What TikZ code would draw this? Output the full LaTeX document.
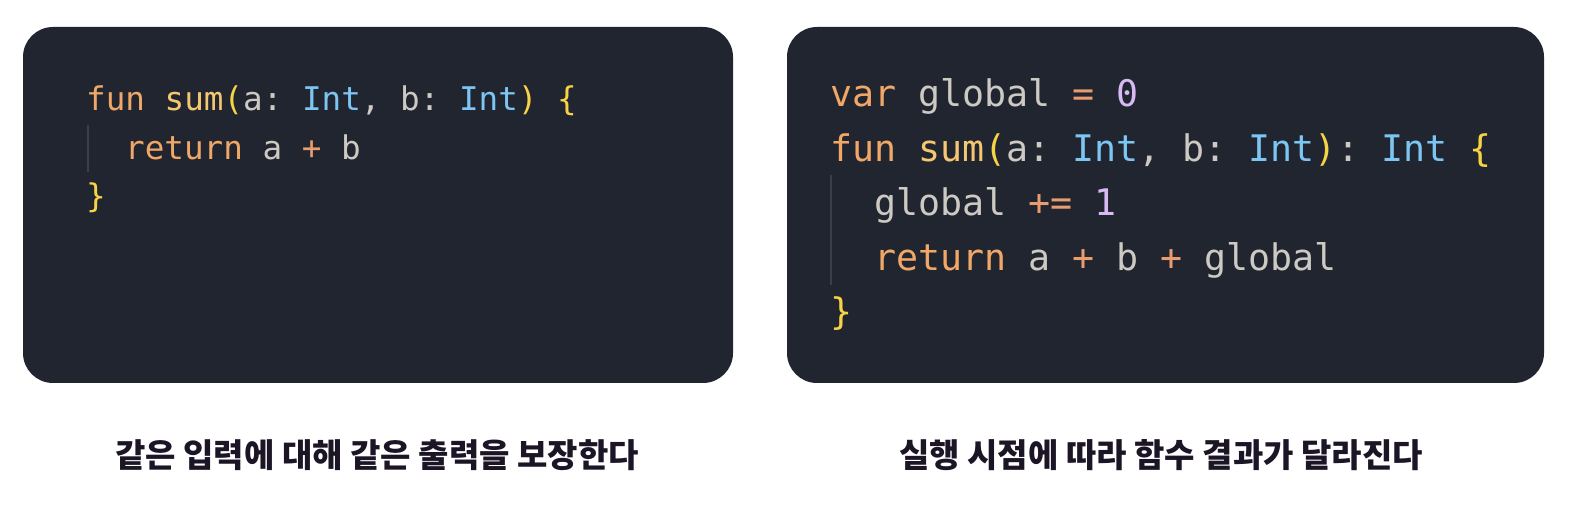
\documentclass[tikz,border=0pt]{standalone}
\usepackage{fontspec}
\setmonofont{DejaVu Sans Mono}
\newfontfamily\kr{Noto Sans CJK KR}
\definecolor{panelbg}{HTML}{21252F}
\definecolor{kw}{HTML}{F0A767}
\definecolor{fnc}{HTML}{F5C770}
\definecolor{pnc}{HTML}{F6D347}
\definecolor{idc}{HTML}{CDC9C3}
\definecolor{tyc}{HTML}{7DC6F3}
\definecolor{opc}{HTML}{E99C6E}
\definecolor{numc}{HTML}{D7B9F4}
\definecolor{guide}{HTML}{3A3F4A}
\definecolor{captc}{HTML}{1B1525}
\newcommand\ckw[1]{\textcolor{kw}{#1}}
\newcommand\cfn[1]{\textcolor{fnc}{#1}}
\newcommand\cpn[1]{\textcolor{pnc}{#1}}
\newcommand\cid[1]{\textcolor{idc}{#1}}
\newcommand\cty[1]{\textcolor{tyc}{#1}}
\newcommand\cop[1]{\textcolor{opc}{#1}}
\newcommand\cnum[1]{\textcolor{numc}{#1}}
\tikzset{
  panel/.style={fill=panelbg, draw=none, rounded corners=30pt},
  codeL/.style={anchor=base west, inner sep=0pt, font=\ttfamily\fontsize{32.6}{40}\selectfont},
  codeR/.style={anchor=base west, inner sep=0pt, font=\ttfamily\fontsize{36.6}{44}\selectfont},
  guideline/.style={draw=guide, line width=2pt},
  caption/.style={inner sep=0pt, text=captc, font=\kr\bfseries\fontsize{33}{38}\selectfont}
}
\begin{document}
\begin{tikzpicture}[x=1pt,y=-1pt]
\useasboundingbox (0,0) rectangle (1574,510);
% panels
\path[panel] (23,27) rectangle (733,383);
\path[panel] (787,27) rectangle (1544,383);
% left code
\coordinate (lg1) at (88,125);
\coordinate (lg2) at (88,172);
\draw[guideline] (lg1) -- (lg2);
\node[codeL] (l1) at (86,111) {\ckw{fun} \cfn{sum}\cpn{(}\cid{a:} \cty{Int}\cid{,} \cid{b:} \cty{Int}\cpn{)} \cpn{\{}};
\node[codeL] (l2) at (125,160) {\ckw{return} \cid{a} \cop{+} \cid{b}};
\node[codeL] (l3) at (86,208) {\cpn{\}}};
% right code
\coordinate (rg1) at (831,175);
\coordinate (rg2) at (831,285);
\draw[guideline] (rg1) -- (rg2);
\node[codeR] (r1) at (830,107) {\ckw{var} \cid{global} \cop{=} \cnum{0}};
\node[codeR] (r2) at (830,161.5) {\ckw{fun} \cfn{sum}\cpn{(}\cid{a:} \cty{Int}\cid{,} \cid{b:} \cty{Int}\cpn{)}\cid{:} \cty{Int} \cpn{\{}};
\node[codeR] (r3) at (874,216) {\cid{global} \cop{+=} \cnum{1}};
\node[codeR] (r4) at (874,270.5) {\ckw{return} \cid{a} \cop{+} \cid{b} \cop{+} \cid{global}};
\node[codeR] (r5) at (830,325) {\cpn{\}}};
% captions
\node[caption] (capL) at (377,455) {같은 입력에 대해 같은 출력을 보장한다};
\node[caption] (capR) at (1161,455) {실행 시점에 따라 함수 결과가 달라진다};
\end{tikzpicture}
\end{document}
